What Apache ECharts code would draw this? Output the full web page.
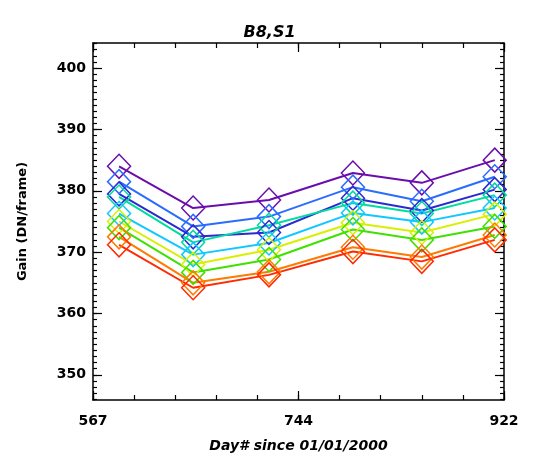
<!DOCTYPE html>
<html>
<head>
<meta charset="utf-8">
<script src="https://cdn.jsdelivr.net/npm/echarts@6/dist/echarts.min.js"></script>
<style>html,body{margin:0;padding:0;background:#fff}#c{width:539px;height:463px}</style>
</head>
<body>
<div id="c"></div>
<script>
var days = [589.5, 653.5, 719, 791.5, 851, 914];
var purple = [384.0, 377.2, 378.5, 382.9, 381.3, 385.0];
var blue   = [381.5, 374.2, 375.8, 380.6, 378.3, 382.3];
var indigo = [379.5, 372.5, 373.2, 378.8, 376.8, 380.2];
var teal   = [379.0, 371.6, 374.4, 378.0, 376.3, 379.3];
var cyan   = [376.3, 369.6, 371.5, 376.4, 374.9, 377.2];
var yellow = [375.0, 368.0, 370.4, 374.8, 373.2, 376.2];
var green  = [374.0, 366.7, 368.8, 373.7, 372.0, 374.2];
var orange = [372.5, 365.0, 366.8, 370.8, 369.2, 372.8];
var red    = [371.2, 364.2, 366.3, 370.1, 368.5, 372.0];
var xMin = 567, xMax = 922;
var xMajor = [567, 744.5, 922];
var yMin = 345.9, yMax = 404.1;
var yMajor = [350, 360, 370, 380, 390, 400];

var seriesList = [
  {d: purple, c: '#6a0dad'},
  {d: blue, c: '#2a6cff'},
  {d: indigo, c: '#2a2ad0'},
  {d: teal, c: '#00dca0'},
  {d: cyan, c: '#10c8ff'},
  {d: yellow, c: '#d8f000'},
  {d: green, c: '#40e000'},
  {d: orange, c: '#ff7a00'},
  {d: red, c: '#ff2a00'}
];

var xMinor = [];
for (var i = 0; i <= 10; i++) xMinor.push(xMin + i * (xMax - xMin) / 10);
var yMinor = [];
for (var v = 346; v <= 404; v++) yMinor.push(v);

var font = '"DejaVu Sans", sans-serif';
var axisLineStyle = {color: '#000', width: 1.5};

function xAx(pos, ticks, len, labels, line) {
  var a = {
    type: 'value', position: pos, min: xMin, max: xMax, gridIndex: 0,
    axisLine: {show: line, onZero: false, lineStyle: axisLineStyle},
    axisTick: {show: true, inside: true, length: len, customValues: ticks, lineStyle: {color: '#000', width: 1.2}},
    axisLabel: {show: labels, customValues: xMajor, formatter: function (v) { return String(Math.floor(v)); },
      color: '#000', fontFamily: font, fontWeight: 'bold', fontSize: 14, margin: 14},
    splitLine: {show: false}
  };
  if (labels) {
    a.name = 'Day# since 01/01/2000';
    a.nameLocation = 'middle';
    a.nameGap = 39;
    a.nameTextStyle = {color: '#000', fontFamily: font, fontWeight: 'bold', fontStyle: 'italic', fontSize: 14};
  }
  return a;
}
function yAx(pos, ticks, len, labels, line) {
  var a = {
    type: 'value', position: pos, min: yMin, max: yMax, gridIndex: 0,
    axisLine: {show: line, onZero: false, lineStyle: axisLineStyle},
    axisTick: {show: true, inside: true, length: len, customValues: ticks, lineStyle: {color: '#000', width: 1.2}},
    axisLabel: {show: labels, customValues: yMajor, color: '#000', fontFamily: font, fontWeight: 'bold', fontSize: 14, margin: 7},
    splitLine: {show: false}
  };
  if (labels) {
    a.name = 'Gain (DN/frame)';
    a.nameLocation = 'middle';
    a.nameGap = 64;
    a.nameTextStyle = {color: '#000', fontFamily: font, fontWeight: 'bold', fontSize: 13};
  }
  return a;
}

var series = seriesList.map(function (s) {
  return {
    type: 'line', xAxisIndex: 0, yAxisIndex: 0,
    data: days.map(function (d, i) { return [d, s.d[i]]; }),
    symbol: 'diamond', symbolSize: [23, 24], showAllSymbol: true,
    lineStyle: {color: s.c, width: 2},
    itemStyle: {color: 'rgba(0,0,0,0)', borderColor: s.c, borderWidth: 1.5},
    animation: false, silent: true
  };
});

var chart = echarts.init(document.getElementById('c'), null, {renderer: 'canvas'});
chart.setOption({
  animation: false,
  backgroundColor: '#fff',
  title: {text: 'B8,S1', left: 'center', top: 20,
    textStyle: {color: '#000', fontFamily: font, fontWeight: 'bold', fontStyle: 'italic', fontSize: 16}},
  grid: {left: 93, right: 35, top: 43, bottom: 63, containLabel: false},
  xAxis: [
    xAx('bottom', xMajor, 9, true, true),
    xAx('bottom', xMinor, 5, false, false),
    xAx('top', xMajor, 9, false, true),
    xAx('top', xMinor, 5, false, false)
  ],
  yAxis: [
    yAx('left', yMajor, 9, true, true),
    yAx('left', yMinor, 4, false, false),
    yAx('right', yMajor, 9, false, true),
    yAx('right', yMinor, 4, false, false)
  ],
  series: series
});
</script>
</body>
</html>
